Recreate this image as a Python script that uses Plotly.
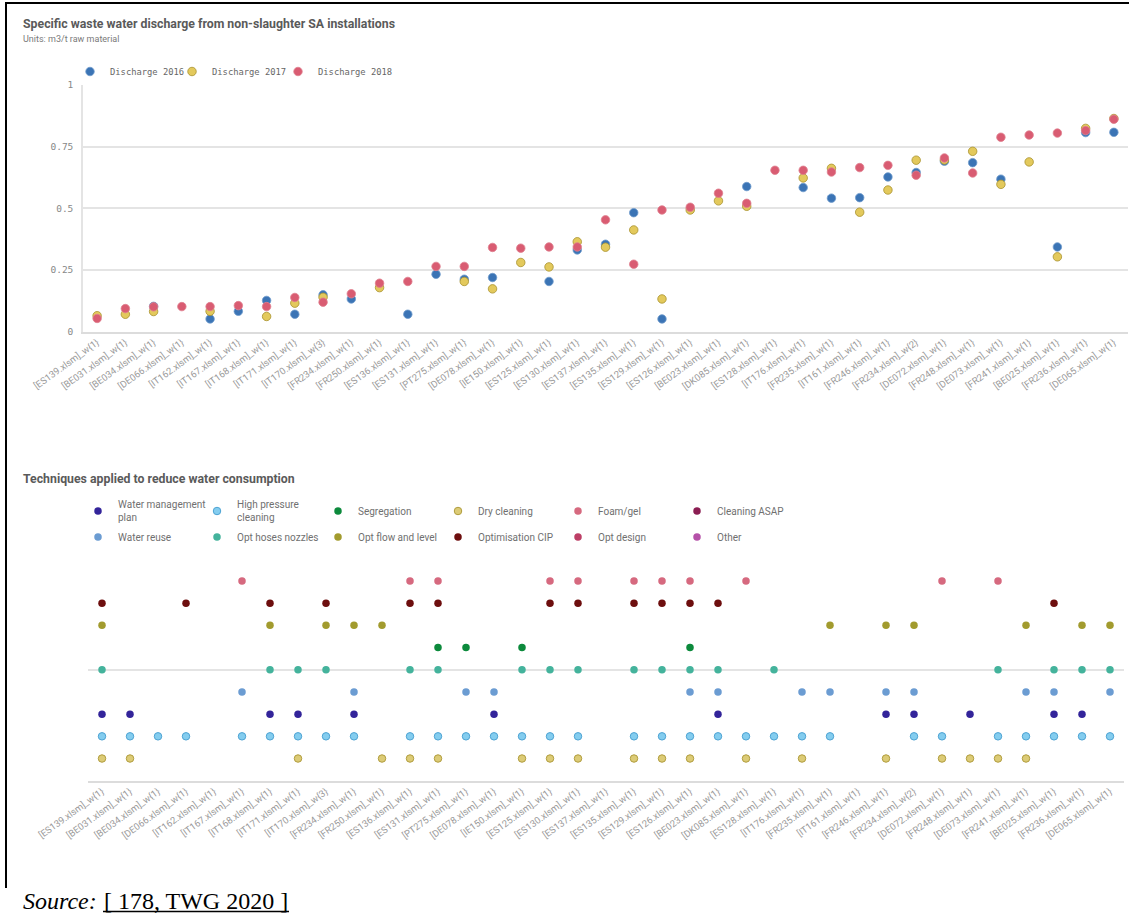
import plotly.graph_objects as go

W, H = 1129, 916

# ---------------- data ----------------
sites = [
    "[ES139.xlsm]_w{1}", "[BE031.xlsm]_w{1}", "[BE034.xlsm]_w{1}", "[DE066.xlsm]_w{1}",
    "[IT162.xlsm]_w{1}", "[IT167.xlsm]_w{1}", "[IT168.xlsm]_w{1}", "[IT171.xlsm]_w{1}",
    "[IT170.xlsm]_w{3}", "[FR234.xlsm]_w{1}", "[FR250.xlsm]_w{1}", "[ES136.xlsm]_w{1}",
    "[ES131.xlsm]_w{1}", "[PT275.xlsm]_w{1}", "[DE078.xlsm]_w{1}", "[IE150.xlsm]_w{1}",
    "[ES125.xlsm]_w{1}", "[ES130.xlsm]_w{1}", "[ES137.xlsm]_w{1}", "[ES135.xlsm]_w{1}",
    "[ES129.xlsm]_w{1}", "[ES126.xlsm]_w{1}", "[BE023.xlsm]_w{1}", "[DK085.xlsm]_w{1}",
    "[ES128.xlsm]_w{1}", "[IT176.xlsm]_w{1}", "[FR235.xlsm]_w{1}", "[IT161.xlsm]_w{1}",
    "[FR246.xlsm]_w{1}", "[FR234.xlsm]_w{2}", "[DE072.xlsm]_w{1}", "[FR248.xlsm]_w{1}",
    "[DE073.xlsm]_w{1}", "[FR241.xlsm]_w{1}", "[BE025.xlsm]_w{1}", "[FR236.xlsm]_w{1}",
    "[DE065.xlsm]_w{1}",
]

discharge_2016 = [
    None, None, 0.102, None, 0.051, 0.082, 0.126, 0.070, 0.149, 0.132,
    None, 0.070, 0.232, 0.212, 0.219, None, 0.203, 0.331, 0.354, 0.482,
    0.051, None, None, 0.588, None, 0.584, 0.541, 0.543, 0.627, 0.645,
    0.691, 0.685, 0.618, None, 0.343, 0.807, 0.808,
]
discharge_2017 = [
    0.064, 0.070, 0.081, None, 0.082, None, 0.061, 0.115, 0.139, None,
    0.178, None, None, 0.203, 0.173, 0.280, 0.262, 0.364, 0.342, 0.412,
    0.132, 0.493, 0.530, 0.508, None, 0.623, 0.662, 0.484, 0.574, 0.695,
    0.696, 0.731, 0.597, 0.688, 0.303, 0.824, 0.864,
]
discharge_2018 = [
    0.053, 0.093, 0.100, 0.101, 0.101, 0.105, 0.101, 0.138, 0.119, 0.153,
    0.196, 0.203, 0.264, 0.264, 0.341, 0.338, 0.343, 0.343, 0.453, 0.273,
    0.493, 0.504, 0.561, 0.520, 0.654, 0.654, 0.647, 0.665, 0.674, 0.634,
    0.704, 0.643, 0.788, 0.797, 0.805, 0.815, 0.861,
]

y_ticks = [0, 0.25, 0.5, 0.75, 1]
y_tick_text = ["0", "0.25", "0.5", "0.75", "1"]

# techniques: legend label, plotted level, sites (index into `sites`) where applied
technique_names = [
    "Water management<br>plan", "High pressure<br>cleaning", "Segregation",
    "Dry cleaning", "Foam/gel", "Cleaning ASAP",
    "Water reuse", "Opt hoses nozzles", "Opt flow and level",
    "Optimisation CIP", "Opt design", "Other",
]
technique_levels = [3, 2, 6, 1, 9, 12, 4, 5, 7, 8, 10, 11]

sites_water_management_plan = [0, 1, 6, 7, 9, 14, 22, 28, 29, 31, 34, 35]
sites_high_pressure_cleaning = [0, 1, 2, 3, 5, 6, 7, 8, 9, 11, 12, 13, 14, 15, 16, 17, 19, 20,
                                21, 22, 23, 24, 25, 26, 29, 30, 32, 33, 34, 35, 36]
sites_segregation = [12, 13, 15, 21]
sites_dry_cleaning = [0, 1, 7, 10, 11, 12, 15, 16, 17, 19, 20, 21, 23, 25, 28, 30, 31, 32, 33]
sites_foam_gel = [5, 11, 12, 16, 17, 19, 20, 21, 23, 30, 32]
sites_cleaning_asap = []
sites_water_reuse = [5, 9, 13, 14, 21, 22, 25, 26, 28, 29, 33, 34, 36]
sites_opt_hoses_nozzles = [0, 6, 7, 8, 11, 12, 15, 16, 17, 19, 20, 21, 22, 24, 32, 34, 35, 36]
sites_opt_flow_level = [0, 6, 8, 9, 10, 26, 28, 29, 33, 35, 36]
sites_optimisation_cip = [0, 3, 6, 8, 11, 12, 16, 17, 19, 20, 21, 22, 34]
sites_opt_design = []
sites_other = []

technique_sites = [
    sites_water_management_plan, sites_high_pressure_cleaning, sites_segregation,
    sites_dry_cleaning, sites_foam_gel, sites_cleaning_asap,
    sites_water_reuse, sites_opt_hoses_nozzles, sites_opt_flow_level,
    sites_optimisation_cip, sites_opt_design, sites_other,
]

# ---------------- styles ----------------
technique_colors = [
    "#33249a", "#84cdef", "#0c8a3c", "#dccb76", "#d6697f", "#8b1d52",
    "#6b9cd2", "#44b39c", "#a29b2e", "#6d0e0e", "#bd3f66", "#b551a8",
]
technique_lines = [
    None, "#4ea3d3", None, "#b09c3e", None, None,
    None, None, None, None, None, None,
]

def px_x(x):
    return x / W

def px_y(y):
    return 1 - y / H

GRID = "#e4e4e4"
TICKFONT = dict(family="Roboto, sans-serif", size=9.5, color="#9a9a9a")
MONO = "DejaVu Sans Mono, monospace"
SANS = "Roboto, sans-serif"
TITLE_FONT = "Roboto, sans-serif"

fig = go.Figure()

# top chart, one legend box per series
top_legends = ["legend", "legend8", "legend9"]
top_marker_x = [95, 197, 303]
series = [
    ("Discharge 2016", discharge_2016, "#3b74b5", "#6f9acb"),
    ("Discharge 2017", discharge_2017, "#e3c95c", "#a8922f"),
    ("Discharge 2018", discharge_2018, "#d95c72", "#e0808f"),
]
for (name, vals, col, lcol), lid in zip(series, top_legends):
    fig.add_trace(go.Scatter(
        x=sites, y=vals, mode="markers", name=name,
        xaxis="x", yaxis="y", legend=lid,
        marker=dict(size=8.5, color=col, line=dict(color=lcol, width=0.8)),
    ))

# bottom chart: 6 legend columns, 2 rows each
legend_ids = ["legend2", "legend3", "legend4", "legend5", "legend6", "legend7"]
for k, (name, lvl, idx, col, lcol) in enumerate(zip(technique_names, technique_levels,
                                                    technique_sites, technique_colors,
                                                    technique_lines)):
    col_i = k % 6
    xs = [sites[i] for i in idx]
    ys = [lvl for _ in idx]
    if not xs:
        xs, ys = [None], [None]
    fig.add_trace(go.Scatter(
        x=xs, y=ys, mode="markers", name=name,
        xaxis="x2", yaxis="y2", legend=legend_ids[col_i],
        legendgroup=name.replace("<br>", " "),
        marker=dict(size=7.5, color=col,
                    line=dict(color=lcol if lcol else col, width=1 if lcol else 0)),
    ))

layout = dict(
    width=W, height=H,
    margin=dict(l=0, r=0, t=0, b=0, autoexpand=False),
    paper_bgcolor="white", plot_bgcolor="white",
    font=dict(family=SANS, color="#666666"),
    xaxis=dict(
        domain=[px_x(83), px_x(1128)], anchor="y", type="category", automargin=False,
        categoryorder="array", categoryarray=sites, range=[-0.5, len(sites) - 0.5],
        tickangle=-36, tickfont=TICKFONT, showgrid=False, showline=True,
        linecolor="#dcdcdc", linewidth=1.5, ticks="", zeroline=False,
    ),
    yaxis=dict(
        domain=[px_y(331.5), px_y(85)], anchor="x", range=[0, 1], automargin=False,
        tickmode="array", tickvals=y_ticks, ticktext=y_tick_text,
        tickfont=dict(family=MONO, size=9.5, color="#888888"),
        showgrid=True, gridcolor=GRID, gridwidth=1.5, zeroline=False,
        showline=True, linecolor="#e4e4e4", linewidth=1.5, ticks="",
        ticklabelstandoff=6,
    ),
    xaxis2=dict(
        domain=[px_x(88), px_x(1124)], anchor="y2", type="category", automargin=False,
        categoryorder="array", categoryarray=sites, range=[-0.5, len(sites) - 0.5],
        tickangle=-36, tickfont=TICKFONT, showgrid=False, showline=True,
        linecolor="#dcdcdc", linewidth=1.5, ticks="", zeroline=False,
    ),
    yaxis2=dict(
        domain=[px_y(780.7), px_y(558.8)], anchor="x2", range=[0, 10], automargin=False,
        tickmode="array", tickvals=[0, 5, 10], showticklabels=False,
        showgrid=True, gridcolor=GRID, gridwidth=1.5, zeroline=False, showline=False,
    ),
    showlegend=True,
)

for lid, mx in zip(top_legends, top_marker_x):
    layout[lid] = dict(
        orientation="h", x=px_x(mx - 25), y=px_y(57), xanchor="left", yanchor="top",
        bgcolor="rgba(0,0,0,0)",
        font=dict(family=MONO, size=8.8, color="#666666"), itemsizing="trace",
    )

marker_x = [103, 222, 343, 463, 583, 702]
for c, lid in enumerate(legend_ids):
    two_line = c < 2
    layout[lid] = dict(
        orientation="v", x=px_x(marker_x[c] - 25), xanchor="left",
        y=px_y(491.5 if two_line else 496.5), yanchor="top",
        traceorder="grouped", tracegroupgap=2 if two_line else 7,
        bgcolor="rgba(0,0,0,0)", itemsizing="trace",
        font=dict(family=SANS, size=10, color="#707070"),
    )

fig.update_layout(**layout)

annotations = [
    dict(text="<b>Specific waste water discharge from non-slaughter SA installations</b>",
         x=px_x(21), y=px_y(24), yanchor="middle",
         font=dict(family=TITLE_FONT, size=12.3, color="#5a5a5a")),
    dict(text="Units: m3/t raw material", x=px_x(21), y=px_y(39), yanchor="middle",
         font=dict(family=TITLE_FONT, size=9, color="#7a7a7a")),
    dict(text="<b>Techniques applied to reduce water consumption</b>",
         x=px_x(21), y=px_y(479), yanchor="middle",
         font=dict(family=TITLE_FONT, size=12.3, color="#5a5a5a")),
    dict(text="<i>Source:</i>", x=px_x(21), y=px_y(916), yanchor="bottom",
         font=dict(family="Liberation Serif, Times New Roman, serif", size=24, color="#000000")),
    dict(text="[ 178, TWG 2020 ]",
         x=px_x(102), y=px_y(916), yanchor="bottom",
         font=dict(family="Liberation Serif, Times New Roman, serif", size=24, color="#000000")),
]
for a in annotations:
    a.update(xref="paper", yref="paper", xanchor="left", showarrow=False)
fig.update_layout(annotations=annotations)

fig.update_layout(shapes=[
    dict(type="line", xref="paper", yref="paper", x0=px_x(6), x1=px_x(6),
         y0=px_y(2), y1=px_y(888), line=dict(color="black", width=2)),
    dict(type="line", xref="paper", yref="paper", x0=px_x(5), x1=px_x(1129),
         y0=px_y(3), y1=px_y(3), line=dict(color="black", width=2)),
    # underline of the source reference
    dict(type="line", xref="paper", yref="paper", x0=px_x(103), x1=px_x(289),
         y0=px_y(911.5), y1=px_y(911.5), line=dict(color="black", width=1.3)),
])

fig.write_html("out.html", config={"displayModeBar": False},
               post_script="document.body.style.margin='0';document.body.style.overflow='hidden';")
